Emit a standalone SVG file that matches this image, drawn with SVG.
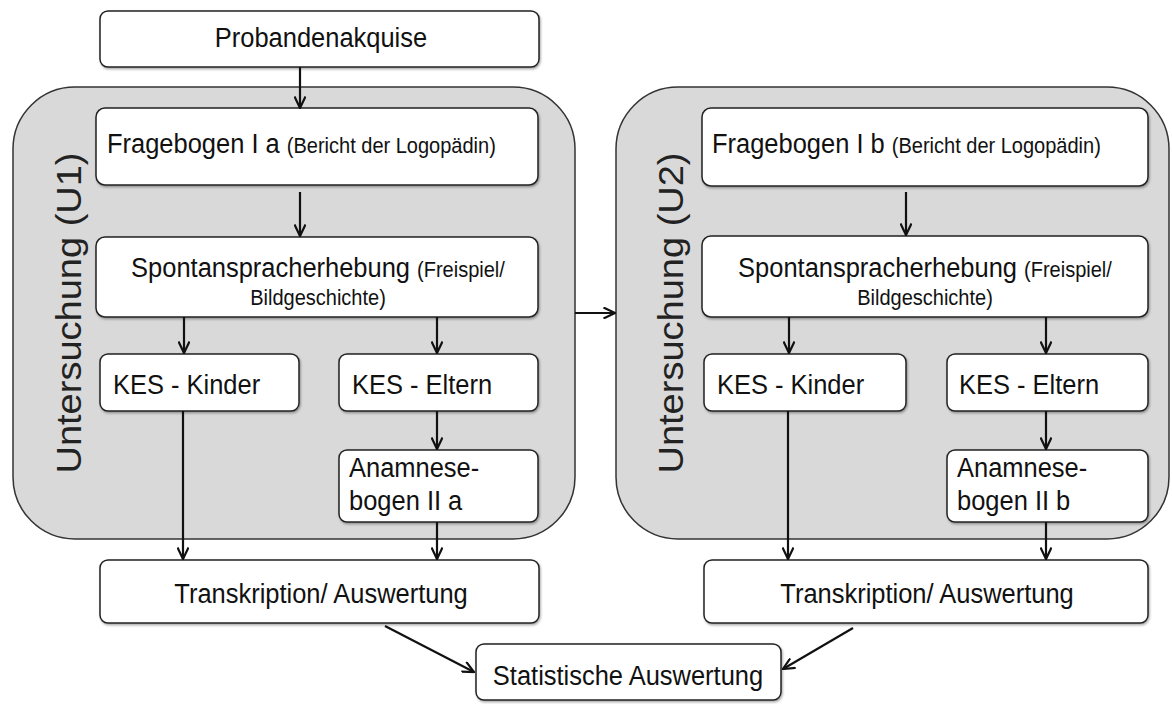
<svg xmlns="http://www.w3.org/2000/svg" width="1172" height="704" viewBox="0 0 1172 704">
<style>
.box{fill:#fff;stroke:#222;stroke-width:1.5;filter:url(#sh)}
.cont{fill:#d9d9d9;stroke:#333;stroke-width:1.5}
.t{font-family:"Liberation Sans",Arial,sans-serif;font-size:28px;fill:#111}
.s{font-size:22px}
.v{font-family:"Liberation Sans",Arial,sans-serif;font-size:38px;fill:#222}
.c{fill:none;stroke:#111;stroke-width:2.2;marker-end:url(#ah)}
</style>
<defs>
<filter id="sh" x="-5%" y="-10%" width="110%" height="130%">
<feDropShadow dx="1" dy="1.5" stdDeviation="0.8" flood-color="#000" flood-opacity="0.35"/>
</filter>
<marker id="ah" viewBox="0 0 13 12" refX="12" refY="6" markerWidth="13" markerHeight="12" orient="auto" markerUnits="userSpaceOnUse">
<path d="M0.5,0.5 L12,6 L0.5,11.5" fill="none" stroke="#111" stroke-width="2.2"/>
</marker>
</defs>
<g id="container-u1">
<rect class="cont" x="13" y="87" width="562" height="452" rx="62" ry="62"/>
<text class="v" transform="translate(81,313) scale(0.91,1) rotate(-90)" text-anchor="middle">Untersuchung (U1)</text>
</g>
<g id="container-u2">
<rect class="cont" x="616" y="87" width="553" height="452" rx="62" ry="62"/>
<text class="v" transform="translate(683,313) scale(0.91,1) rotate(-90)" text-anchor="middle">Untersuchung (U2)</text>
</g>
<g id="probandenakquise">
<rect class="box" x="100" y="11" width="439" height="56" rx="8"/>
<text class="t" transform="translate(321,47) scale(0.91,1)" text-anchor="middle">Probandenakquise</text>
</g>
<g id="fragebogen-1a">
<rect class="box" x="96" y="108" width="442" height="77" rx="9"/>
<text class="t" transform="translate(107,153) scale(0.91,1)">Fragebogen I a <tspan class="s">(Bericht der Logopädin)</tspan></text>
</g>
<g id="spontan-u1">
<rect class="box" x="96" y="237" width="442" height="80" rx="9"/>
<text class="t" transform="translate(318,277) scale(0.91,1)" text-anchor="middle">Spontanspracherhebung <tspan class="s">(Freispiel/</tspan></text>
<text class="t s" transform="translate(318,305) scale(0.91,1)" text-anchor="middle">Bildgeschichte)</text>
</g>
<g id="kes-kinder-u1">
<rect class="box" x="100" y="354" width="199" height="57" rx="8"/>
<text class="t" transform="translate(113,394) scale(0.91,1)">KES - Kinder</text>
</g>
<g id="kes-eltern-u1">
<rect class="box" x="339" y="354" width="199" height="57" rx="8"/>
<text class="t" transform="translate(352,394) scale(0.91,1)">KES - Eltern</text>
</g>
<g id="anamnese-u1">
<rect class="box" x="339" y="450" width="199" height="72" rx="8"/>
<text class="t" transform="translate(349,477) scale(0.91,1)">Anamnese-</text>
<text class="t" transform="translate(349,510) scale(0.91,1)">bogen II a</text>
</g>
<g id="transkription-u1">
<rect class="box" x="100" y="560" width="439" height="63" rx="8"/>
<text class="t" transform="translate(321,603) scale(0.91,1)" text-anchor="middle">Transkription/ Auswertung</text>
</g>
<g id="fragebogen-1b">
<rect class="box" x="702" y="108" width="446" height="78" rx="9"/>
<text class="t" transform="translate(712,153) scale(0.91,1)">Fragebogen I b <tspan class="s">(Bericht der Logopädin)</tspan></text>
</g>
<g id="spontan-u2">
<rect class="box" x="702" y="236" width="446" height="81" rx="9"/>
<text class="t" transform="translate(925,277) scale(0.91,1)" text-anchor="middle">Spontanspracherhebung <tspan class="s">(Freispiel/</tspan></text>
<text class="t s" transform="translate(925,305) scale(0.91,1)" text-anchor="middle">Bildgeschichte)</text>
</g>
<g id="kes-kinder-u2">
<rect class="box" x="704" y="354" width="202" height="57" rx="8"/>
<text class="t" transform="translate(717,394) scale(0.91,1)">KES - Kinder</text>
</g>
<g id="kes-eltern-u2">
<rect class="box" x="947" y="354" width="201" height="57" rx="8"/>
<text class="t" transform="translate(959,394) scale(0.91,1)">KES - Eltern</text>
</g>
<g id="anamnese-u2">
<rect class="box" x="947" y="450" width="201" height="72" rx="8"/>
<text class="t" transform="translate(957,477) scale(0.91,1)">Anamnese-</text>
<text class="t" transform="translate(957,510) scale(0.91,1)">bogen II b</text>
</g>
<g id="transkription-u2">
<rect class="box" x="704" y="560" width="444" height="63" rx="8"/>
<text class="t" transform="translate(927,603) scale(0.91,1)" text-anchor="middle">Transkription/ Auswertung</text>
</g>
<g id="statistische-auswertung">
<rect class="box" x="476" y="644" width="305" height="56" rx="8"/>
<text class="t" transform="translate(628,685) scale(0.91,1)" text-anchor="middle">Statistische Auswertung</text>
</g>
<g id="connectors">
<path class="c" d="M300,67 L300,108"/>
<path class="c" d="M300,192 L300,236"/>
<path class="c" d="M184,317 L184,353"/>
<path class="c" d="M437,317 L437,353"/>
<path class="c" d="M437,411 L437,449"/>
<path class="c" d="M183,411 L183,559"/>
<path class="c" d="M437,522 L437,559"/>
<path class="c" d="M575,313 L615,313"/>
<path class="c" d="M906,192 L906,235"/>
<path class="c" d="M789,317 L789,353"/>
<path class="c" d="M1046,317 L1046,353"/>
<path class="c" d="M1046,411 L1046,449"/>
<path class="c" d="M788,411 L788,559"/>
<path class="c" d="M1046,522 L1046,559"/>
<path class="c" d="M385,626 L474,672"/>
<path class="c" d="M853,628 L783,669"/>
</g>
</svg>
